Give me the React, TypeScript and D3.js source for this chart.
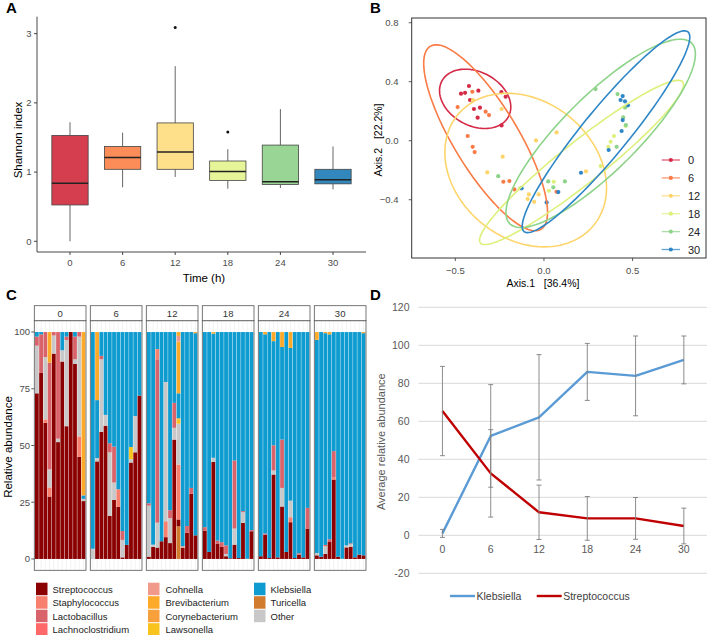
import React from "react";
import * as d3 from "d3";

const FONT = "'Liberation Sans', Arial, Helvetica, sans-serif";

// ---------- Panel A: Shannon index boxplots ----------
const TIMES = ["0", "6", "12", "18", "24", "30"];
const BOX_MIN = [0, 0.78, 0.93, 0.76, 0.77, 0.75];
const BOX_Q1 = [0.525, 1.04, 1.04, 0.88, 0.82, 0.83];
const BOX_MED = [0.84, 1.21, 1.29, 1.01, 0.86, 0.89];
const BOX_Q3 = [1.53, 1.37, 1.71, 1.16, 1.39, 1.04];
const BOX_MAX = [1.72, 1.57, 2.53, 1.33, 1.91, 1.37];
const BOX_OUTLIERS: number[][] = [[], [], [3.09], [1.58], [], []];
const A_TICKS = [0, 1, 2, 3];
const SPECTRAL = ["#D53E4F", "#FC8D59", "#FEE08B", "#E6F598", "#99D594", "#3288BD"];

// ---------- Panel B: PCoA ----------
const B_COLORS = ["#D42A46", "#F97B45", "#FED56C", "#DDF07C", "#8ED38A", "#2E86C6"];
const PCOA_0: [number, number][] = [[-0.423, 0.371], [-0.37, 0.339], [-0.445, 0.325], [-0.468, 0.319], [-0.417, 0.276], [-0.395, 0.215], [-0.361, 0.224], [-0.374, 0.156], [-0.239, 0.104], [-0.216, 0.298], [-0.24, 0.33]];
const PCOA_6: [number, number][] = [[-0.487, 0.228], [-0.404, 0.332], [-0.329, 0.197], [-0.31, 0.174], [-0.43, 0.032], [-0.402, -0.041], [-0.391, -0.077], [-0.229, -0.278], [-0.195, -0.273], [-0.167, -0.33], [0.071, -0.346]];
const PCOA_12: [number, number][] = [[-0.239, 0.215], [-0.045, 0.002], [0.071, 0.056], [-0.233, -0.108], [-0.32, -0.215], [-0.085, -0.364], [-0.092, -0.395], [-0.03, -0.364], [-0.055, -0.414], [0.237, -0.208], [-0.4, 0.275]];
const PCOA_18: [number, number][] = [[-0.135, -0.323], [0.028, -0.339], [0.055, -0.278], [0.32, -0.172], [0.395, 0.032], [0.376, -0.007], [0.459, 0.226], [0.363, -0.041], [0.46, 0.1]];
const PCOA_24: [number, number][] = [[0.291, 0.35], [0.415, 0.316], [-0.258, -0.24], [0.024, -0.276], [0.118, -0.276], [0.053, -0.316], [0.41, -0.041], [0.447, 0.158], [0.462, 0.106], [0.457, 0.226]];
const PCOA_30: [number, number][] = [[0.444, 0.303], [0.432, 0.276], [0.457, 0.267], [0.474, 0.24], [0.444, 0.14], [0.438, 0.066], [0.365, -0.063], [0.209, -0.217], [0.081, -0.348], [0.015, -0.418], [-0.126, -0.323]];
const PCOA_GROUPS = [PCOA_0, PCOA_6, PCOA_12, PCOA_18, PCOA_24, PCOA_30];
// ellipse parameters (data units): centre x, centre y, semi-axes, rotation in degrees
const ELL_CX = [-0.388, -0.329, -0.103, 0.212, 0.32, 0.35];
const ELL_CY = [0.284, 0.02, -0.199, -0.147, 0.05, 0.061];
const ELL_A = [0.227, 0.695, 0.55, 0.79, 0.8, 0.82];
const ELL_B = [0.171, 0.19, 0.42, 0.13, 0.23, 0.138];
const ELL_ANGLE = [-45, -64, -60, 44, 51, 56];
const B_XTICKS = [-0.5, 0, 0.5];
const B_YTICKS = [-0.4, 0, 0.4, 0.8];

// ---------- Panel C: stacked relative abundance ----------
const TAXA = ["Streptococcus", "Staphylococcus", "Lactobacillus", "Lachnoclostridium", "Cohnella", "Brevibacterium", "Corynebacterium", "Lawsonella", "Klebsiella", "Turicella", "Other"];
const TAXA_CODES = ["S", "St", "L", "Lc", "C", "B", "Co", "Lw", "K", "T", "O"];
const TAXA_COLORS = ["#8B0000", "#F8806F", "#D9636B", "#FF6868", "#F19A8C", "#FDAA2B", "#F7A03C", "#F9C31E", "#0E9BD0", "#D07B2E", "#C8C8C8"];
type Seg = [string, number];
const FACET_0: Seg[][] = [
  [["S", 73], ["O", 21], ["L", 4], ["K", 2]],
  [["S", 82], ["L", 17], ["K", 1]],
  [["S", 60], ["St", 1.5], ["O", 27.5], ["L", 11]],
  [["S", 27.5], ["St", 4], ["O", 8], ["L", 47], ["B", 13.5]],
  [["S", 90.5], ["O", 8], ["L", 1.5]],
  [["S", 51.5], ["O", 1.5], ["L", 47]],
  [["S", 87], ["O", 5], ["K", 8]],
  [["S", 58.5], ["O", 38], ["L", 1.5], ["K", 2]],
  [["S", 100]],
  [["S", 86], ["O", 2], ["L", 10], ["K", 2]],
  [["S", 45], ["St", 9], ["O", 44], ["L", 2]],
  [["S", 25.5], ["O", 1], ["K", 1.5], ["B", 72]],
];
const FACET_6: Seg[][] = [
  [["O", 4.5], ["K", 95.5]],
  [["S", 43], ["O", 1.5], ["K", 25.5], ["B", 30]],
  [["S", 56], ["O", 32], ["L", 1.5], ["K", 10.5]],
  [["S", 58.7], ["O", 4.8], ["K", 36.5]],
  [["S", 19], ["O", 28], ["L", 4], ["K", 49]],
  [["S", 26], ["O", 7.7], ["L", 15.8], ["K", 50.5]],
  [["S", 23], ["St", 7.7], ["K", 69.3]],
  [["S", 0.7], ["O", 7.7], ["L", 3.9], ["K", 87.7]],
  [["S", 6.2], ["K", 93.8]],
  [["S", 42.5], ["O", 1.5], ["Lw", 5.3], ["K", 50.7]],
  [["S", 47], ["O", 16], ["K", 37]],
  [["S", 72], ["K", 28]],
];
const FACET_12: Seg[][] = [
  [["S", 1], ["O", 22.5], ["L", 1], ["K", 75.5]],
  [["S", 5.3], ["O", 1], ["K", 93.7]],
  [["S", 5], ["O", 11], ["L", 72], ["St", 4.5], ["K", 7.5]],
  [["S", 7.8], ["K", 92.2]],
  [["S", 9.6], ["St", 7], ["O", 61.4], ["K", 22]],
  [["S", 7], ["O", 11], ["L", 3.5], ["K", 78.5]],
  [["S", 52.6], ["O", 5.2], ["L", 11], ["K", 31.2]],
  [["T", 14.4], ["S", 3], ["St", 24.2], ["O", 18], ["Lw", 1.9], ["B", 0.5], ["K", 11], ["B", 22.8], ["C", 2.5], ["B", 1.7]],
  [["S", 4.9], ["C", 0.7], ["K", 94.4]],
  [["S", 11.5], ["L", 3], ["K", 85.5]],
  [["S", 28.7], ["L", 2.6], ["K", 68.7]],
  [["S", 10.4], ["K", 89.1], ["B", 0.5]],
];
const FACET_18: Seg[][] = [
  [["S", 12.5], ["L", 1.5], ["K", 86]],
  [["S", 3.1], ["K", 96.9]],
  [["S", 42.8], ["O", 1.8], ["K", 54.7], ["B", 0.7]],
  [["S", 6.8], ["L", 1.3], ["K", 91.9]],
  [["S", 5.3], ["L", 2.1], ["K", 92.6]],
  [["S", 1.2], ["O", 1], ["L", 3.8], ["K", 94]],
  [["S", 0.3], ["K", 99.7]],
  [["S", 6.3], ["O", 7.1], ["L", 30], ["K", 56.6]],
  [["S", 0.4], ["K", 99.6]],
  [["S", 15.9], ["O", 4.7], ["L", 0.5], ["K", 78.9]],
  [["S", 0.1], ["K", 99.9]],
  [["S", 12.2], ["L", 0.5], ["K", 87.3]],
];
const FACET_24: Seg[][] = [
  [["S", 1.2], ["K", 98.8]],
  [["S", 10.7], ["L", 0.5], ["K", 87.8], ["B", 1]],
  [["S", 0.4], ["K", 99.6]],
  [["S", 37.2], ["O", 1.8], ["L", 11.1], ["K", 45.9], ["B", 4]],
  [["S", 0.7], ["K", 99.3]],
  [["S", 23.1], ["O", 8.2], ["L", 21.3], ["K", 40.8], ["B", 6.6]],
  [["S", 3.1], ["K", 96.9]],
  [["S", 16.2], ["St", 2.2], ["O", 7.3], ["K", 67.3], ["B", 7]],
  [["S", 0.4], ["K", 99.6]],
  [["S", 1.9], ["L", 0.6], ["K", 97.5]],
  [["S", 0.7], ["K", 99.3]],
  [["S", 13.4], ["L", 9.1], ["K", 77.5]],
];
const FACET_30: Seg[][] = [
  [["S", 1.6], ["O", 1], ["K", 94], ["B", 3.4]],
  [["S", 1], ["K", 99]],
  [["S", 2.2], ["O", 3.4], ["L", 0.6], ["K", 93.3], ["B", 0.5]],
  [["S", 7.5], ["L", 1.2], ["K", 90.3], ["B", 1]],
  [["S", 35], ["St", 1], ["L", 11.5], ["K", 52.5]],
  [["S", 1], ["K", 99]],
  [["S", 0.1], ["K", 99.9]],
  [["S", 5.1], ["O", 0.9], ["K", 94]],
  [["S", 5.4], ["O", 1.2], ["L", 0.3], ["K", 93.1]],
  [["S", 0.7], ["K", 99.3]],
  [["S", 1.9], ["K", 98.1]],
  [["S", 1.6], ["K", 97.9], ["B", 0.5]],
];
const FACETS = [FACET_0, FACET_6, FACET_12, FACET_18, FACET_24, FACET_30];
const C_TICKS = [0, 25, 50, 75, 100];
const LEGEND_COLUMNS = [
  ["Streptococcus", "Staphylococcus", "Lactobacillus", "Lachnoclostridium"],
  ["Cohnella", "Brevibacterium", "Corynebacterium", "Lawsonella"],
  ["Klebsiella", "Turicella", "Other"],
];

// ---------- Panel D: average relative abundance ----------
const KLEB_MEAN = [1, 52.3, 62.1, 86, 83.9, 92.3];
const KLEB_ERR = [2.1, 27, 33, 15, 21, 12.6];
const STREP_MEAN = [65.4, 32.6, 12.1, 8.9, 8.9, 4.9];
const STREP_ERR = [23.5, 23, 14.3, 11.5, 11, 9.4];
const D_TICKS = [-20, 0, 20, 40, 60, 80, 100, 120];
const D_SERIES = ["Klebsiella", "Streptococcus"];
const D_COLORS = ["#5B9BD5", "#C00000"];

function PanelA() {
  const x = d3.scalePoint<string>().domain(TIMES).range([70, 333]);
  const y = d3.scaleLinear().domain([-0.1545, 3.2445]).range([252, 16.7]);
  const bw = 36.3;
  return (
    <g>
      <text x={6} y={13} fontSize={15} fontWeight="bold" fontFamily={FONT}>A</text>
      {TIMES.map((t, i) => {
        const cx = x(t)!;
        return (
          <g key={t}>
            <line x1={cx} x2={cx} y1={y(BOX_MAX[i])} y2={y(BOX_Q3[i])} stroke="#555" strokeWidth={0.9} />
            <line x1={cx} x2={cx} y1={y(BOX_Q1[i])} y2={y(BOX_MIN[i])} stroke="#555" strokeWidth={0.9} />
            <rect x={cx - bw / 2} y={y(BOX_Q3[i])} width={bw} height={y(BOX_Q1[i]) - y(BOX_Q3[i])} fill={SPECTRAL[i]} stroke="#444" strokeWidth={0.8} />
            <line x1={cx - bw / 2} x2={cx + bw / 2} y1={y(BOX_MED[i])} y2={y(BOX_MED[i])} stroke="#222" strokeWidth={1.5} />
            {BOX_OUTLIERS[i].map((o, j) => (
              <circle key={j} cx={cx} cy={y(o)} r={1.5} fill="#111" />
            ))}
          </g>
        );
      })}
      <line x1={37} x2={37} y1={16.7} y2={252} stroke="#333" strokeWidth={0.9} />
      <line x1={37} x2={366} y1={252} y2={252} stroke="#333" strokeWidth={0.9} />
      {A_TICKS.map((t) => (
        <g key={t}>
          <line x1={34} x2={37} y1={y(t)} y2={y(t)} stroke="#333" strokeWidth={0.9} />
          <text x={31.5} y={y(t) + 3.4} fontSize={9.5} fill="#4D4D4D" textAnchor="end" fontFamily={FONT}>{t}</text>
        </g>
      ))}
      {TIMES.map((t) => (
        <g key={t}>
          <line x1={x(t)} x2={x(t)} y1={252} y2={255} stroke="#333" strokeWidth={0.9} />
          <text x={x(t)} y={265.5} fontSize={9.5} fill="#4D4D4D" textAnchor="middle" fontFamily={FONT}>{t}</text>
        </g>
      ))}
      <text x={204} y={282} fontSize={11.5} textAnchor="middle" fontFamily={FONT}>Time (h)</text>
      <text transform="translate(21.5,140) rotate(-90)" fontSize={11.5} textAnchor="middle" fontFamily={FONT}>Shannon index</text>
    </g>
  );
}

function PanelB() {
  const x = d3.scaleLinear().domain([-0.746, 0.914]).range([411.7, 706]);
  const y = d3.scaleLinear().domain([-0.795, 0.832]).range([258, 18]);
  const ellipse = (i: number) => {
    const th = (ELL_ANGLE[i] * Math.PI) / 180;
    const pts: [number, number][] = d3.range(0, 121).map((k) => {
      const t = (k / 120) * 2 * Math.PI;
      const ux = ELL_A[i] * Math.cos(t);
      const uy = ELL_B[i] * Math.sin(t);
      return [x(ELL_CX[i] + ux * Math.cos(th) - uy * Math.sin(th)), y(ELL_CY[i] + ux * Math.sin(th) + uy * Math.cos(th))];
    });
    return d3.line()(pts) + "Z";
  };
  const fmt = d3.format(".1f");
  return (
    <g>
      <text x={370} y={13} fontSize={15} fontWeight="bold" fontFamily={FONT}>B</text>
      <defs>
        <clipPath id="clipB">
          <rect x={411.7} y={18} width={294.3} height={240} />
        </clipPath>
      </defs>
      <g clipPath="url(#clipB)">
        {PCOA_GROUPS.map((g, i) =>
          g.map((p, j) => <circle key={i + "-" + j} cx={x(p[0])} cy={y(p[1])} r={2.1} fill={B_COLORS[i]} />)
        )}
        {TIMES.map((t, i) => (
          <path key={t} d={ellipse(i)} fill="none" stroke={B_COLORS[i]} strokeWidth={1.6} />
        ))}
      </g>
      <rect x={411.7} y={18} width={294.3} height={240} fill="none" stroke="#333" strokeWidth={1} />
      {B_YTICKS.map((t) => (
        <g key={t}>
          <line x1={408.7} x2={411.7} y1={y(t)} y2={y(t)} stroke="#333" strokeWidth={0.8} />
          <text x={398.5} y={y(t) + 3.4} fontSize={9.5} fill="#4D4D4D" textAnchor="end" fontFamily={FONT}>{fmt(t)}</text>
        </g>
      ))}
      {B_XTICKS.map((t) => (
        <g key={t}>
          <line x1={x(t)} x2={x(t)} y1={258} y2={261} stroke="#333" strokeWidth={0.8} />
          <text x={x(t)} y={274} fontSize={9.5} fill="#4D4D4D" textAnchor="middle" fontFamily={FONT}>{fmt(t)}</text>
        </g>
      ))}
      <text x={543} y={287} fontSize={10.5} textAnchor="middle" fontFamily={FONT} xmlSpace="preserve">{"Axis.1   [36.4%]"}</text>
      <text transform="translate(381.5,140) rotate(-90)" fontSize={10.5} textAnchor="middle" fontFamily={FONT} xmlSpace="preserve">{"Axis.2   [22.2%]"}</text>
      {TIMES.map((t, i) => {
        const ly = 160 + i * 17.9;
        return (
          <g key={t}>
            <line x1={661.7} x2={680} y1={ly} y2={ly} stroke={B_COLORS[i]} strokeWidth={1.3} opacity={0.75} />
            <circle cx={670.8} cy={ly} r={2.1} fill={B_COLORS[i]} />
            <text x={688} y={ly + 4} fontSize={11} fill="#222" fontFamily={FONT}>{t}</text>
          </g>
        );
      })}
    </g>
  );
}

function PanelC() {
  const fx = d3.scaleBand<string>().domain(TIMES).range([34.3, 366]).paddingInner(0.0768);
  const y = d3.scaleLinear().domain([-5, 105]).range([570.3, 320.7]);
  const colorOf = (code: string) => TAXA_COLORS[TAXA_CODES.indexOf(code)];
  return (
    <g>
      <text x={6} y={300} fontSize={15} fontWeight="bold" fontFamily={FONT}>C</text>
      {TIMES.map((t, fi) => {
        const x0 = fx(t)!;
        const w = fx.bandwidth();
        const bars = FACETS[fi];
        const bx = d3.scaleBand<number>().domain(d3.range(bars.length)).range([x0, x0 + w]).paddingInner(0.1).paddingOuter(0.15);
        return (
          <g key={t}>
            <rect x={x0} y={320.7} width={w} height={249.6} fill="#fff" />
            {bars.map((_, bi) => (
              <line key={bi} x1={bx(bi)! + bx.bandwidth() / 2} x2={bx(bi)! + bx.bandwidth() / 2} y1={320.7} y2={570.3} stroke="#E6E6E6" strokeWidth={0.5} />
            ))}
            {bars.map((segs, bi) => {
              let acc = 0;
              return (
                <g key={bi}>
                  {segs.map(([code, v], si) => {
                    const y0 = acc;
                    acc += v;
                    return <rect key={si} x={bx(bi)} y={y(acc)} width={bx.bandwidth()} height={y(y0) - y(acc)} fill={colorOf(code)} />;
                  })}
                </g>
              );
            })}
            <rect x={x0} y={320.7} width={w} height={249.6} fill="none" stroke="#555" strokeWidth={0.8} />
            <rect x={x0} y={305.7} width={w} height={15} fill="#fff" stroke="#555" strokeWidth={0.8} />
            <text x={x0 + w / 2} y={316.5} fontSize={9.5} fill="#333" textAnchor="middle" fontFamily={FONT}>{t}</text>
          </g>
        );
      })}
      {C_TICKS.map((t) => (
        <g key={t}>
          <line x1={31.3} x2={34.3} y1={y(t)} y2={y(t)} stroke="#333" strokeWidth={0.8} />
          <text x={30} y={y(t) + 3.4} fontSize={9.5} fill="#4D4D4D" textAnchor="end" fontFamily={FONT}>{t}</text>
        </g>
      ))}
      <text transform="translate(12,447) rotate(-90)" fontSize={11.5} textAnchor="middle" fontFamily={FONT}>Relative abundance</text>
      {LEGEND_COLUMNS.map((col, ci) => {
        const sx = [36, 148, 254][ci];
        const tx = [52.5, 165.5, 270.5][ci];
        return (
          <g key={ci}>
            {col.map((name, ri) => {
              const top = 582.7 + ri * 13.5;
              return (
                <g key={name}>
                  <rect x={sx} y={top} width={11.5} height={12.5} fill={TAXA_COLORS[TAXA.indexOf(name)]} />
                  <text x={tx} y={top + 10} fontSize={9.5} fill="#222" fontFamily={FONT}>{name}</text>
                </g>
              );
            })}
          </g>
        );
      })}
    </g>
  );
}

function PanelD() {
  const x = d3.scaleBand<string>().domain(TIMES).range([418.3, 708]);
  const y = d3.scaleLinear().domain([-20, 120]).range([573.3, 307.3]);
  const cx = (t: string) => x(t)! + x.bandwidth() / 2;
  const line = d3.line<number>().x((_, i) => cx(TIMES[i])).y((d) => y(d));
  const means = [KLEB_MEAN, STREP_MEAN];
  const errs = [KLEB_ERR, STREP_ERR];
  return (
    <g>
      <text x={370} y={300} fontSize={15} fontWeight="bold" fontFamily={FONT}>D</text>
      {D_TICKS.map((t) => (
        <g key={t}>
          <line x1={418.3} x2={707} y1={y(t)} y2={y(t)} stroke="#D9D9D9" strokeWidth={1} />
          <text x={409.5} y={y(t) + 3.8} fontSize={10.5} fill="#595959" textAnchor="end" fontFamily={FONT}>{t}</text>
        </g>
      ))}
      {TIMES.map((t) => (
        <text key={t} x={cx(t)} y={553} fontSize={10.5} fill="#595959" textAnchor="middle" fontFamily={FONT}>{t}</text>
      ))}
      {means.map((m, si) => (
        <path key={si} d={line(m)!} fill="none" stroke={D_COLORS[si]} strokeWidth={2.4} strokeLinejoin="round" />
      ))}
      {means.map((m, si) =>
        m.map((v, i) => {
          const px = cx(TIMES[i]);
          const e = errs[si][i];
          return (
            <g key={si + "-" + i} stroke="#7F7F7F" strokeWidth={0.9}>
              <line x1={px} x2={px} y1={y(v + e)} y2={y(v - e)} />
              <line x1={px - 2.5} x2={px + 2.5} y1={y(v + e)} y2={y(v + e)} />
              <line x1={px - 2.5} x2={px + 2.5} y1={y(v - e)} y2={y(v - e)} />
            </g>
          );
        })
      )}
      <text transform="translate(384.5,441.7) rotate(-90)" fontSize={11} fill="#595959" textAnchor="middle" fontFamily={FONT}>Average relative abundance</text>
      {D_SERIES.map((s, i) => {
        const lx = [450, 536.7][i];
        return (
          <g key={s}>
            <line x1={lx} x2={lx + 25} y1={596} y2={596} stroke={D_COLORS[i]} strokeWidth={2.4} />
            <text x={lx + 26.5} y={599.8} fontSize={10.5} fill="#404040" fontFamily={FONT}>{s}</text>
          </g>
        );
      })}
    </g>
  );
}

export default function App() {
  return (
    <svg width={708} height={635} viewBox="0 0 708 635" style={{ position: "absolute", left: 0, top: 0, background: "#fff" }}>
      <rect width={708} height={635} fill="#fff" />
      <PanelA />
      <PanelB />
      <PanelC />
      <PanelD />
    </svg>
  );
}
